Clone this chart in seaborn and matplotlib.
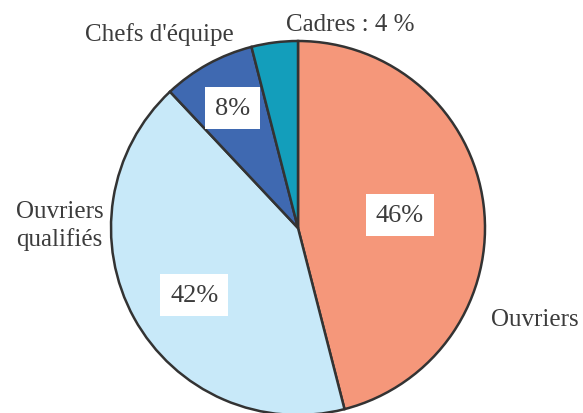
import matplotlib
matplotlib.use("Agg")
import matplotlib.pyplot as plt
import numpy as np
import seaborn as sns

categories = ["Ouvriers", "Ouvriers\nqualifiés", "Chefs d'équipe", "Cadres : 4 %"]
shares = [46, 42, 8, 4]
pct_labels = ["46%", "42%", "8%", ""]
colors = ["#F5977A", "#C8E9F9", "#3F69B1", "#139EBB"]

sns.set_style("white")
plt.rcParams["font.family"] = ["Liberation Serif", "DejaVu Serif"]

fig = plt.figure(figsize=(5.83, 4.14), dpi=100)
ax = fig.add_axes([0, 0, 1, 1])

cx, cy, r = 298, 185, 187
wedges, _ = ax.pie(shares, colors=colors, startangle=90, counterclock=False,
                   center=(cx, cy), radius=r, frame=True,
                   wedgeprops=dict(edgecolor="#333333", linewidth=1.8))
ax.set_xlim(0, 583)
ax.set_ylim(0, 414)
ax.axis("off")

txt = "#3c3c3c"
# percentage boxes along each wedge's mid angle (small angle nudge per label)
dists = [0.55, 0.66, 0.73, 0]
nudges = [0, 4, 0, 0]
for w, lab, d, n in zip(wedges, pct_labels, dists, nudges):
    if not lab:
        continue
    ang = np.deg2rad((w.theta1 + w.theta2) / 2 + n)
    ax.text(cx + d * r * np.cos(ang), cy + d * r * np.sin(ang), lab,
            ha="center", va="center", fontsize=19, color=txt,
            bbox=dict(boxstyle="square,pad=0.38", fc="white", ec="none"))

# outside labels
ax.text(535, 94, categories[0], ha="center", va="center", fontsize=18, color=txt)
ax.text(104, 188, categories[1], ha="right", va="center", fontsize=18,
        color=txt, linespacing=1.3, multialignment="left")
ax.text(159, 379, categories[2], ha="center", va="center", fontsize=18, color=txt)
ax.text(350, 389, categories[3], ha="center", va="center", fontsize=18, color=txt)

fig.savefig("out.png", dpi=100)
